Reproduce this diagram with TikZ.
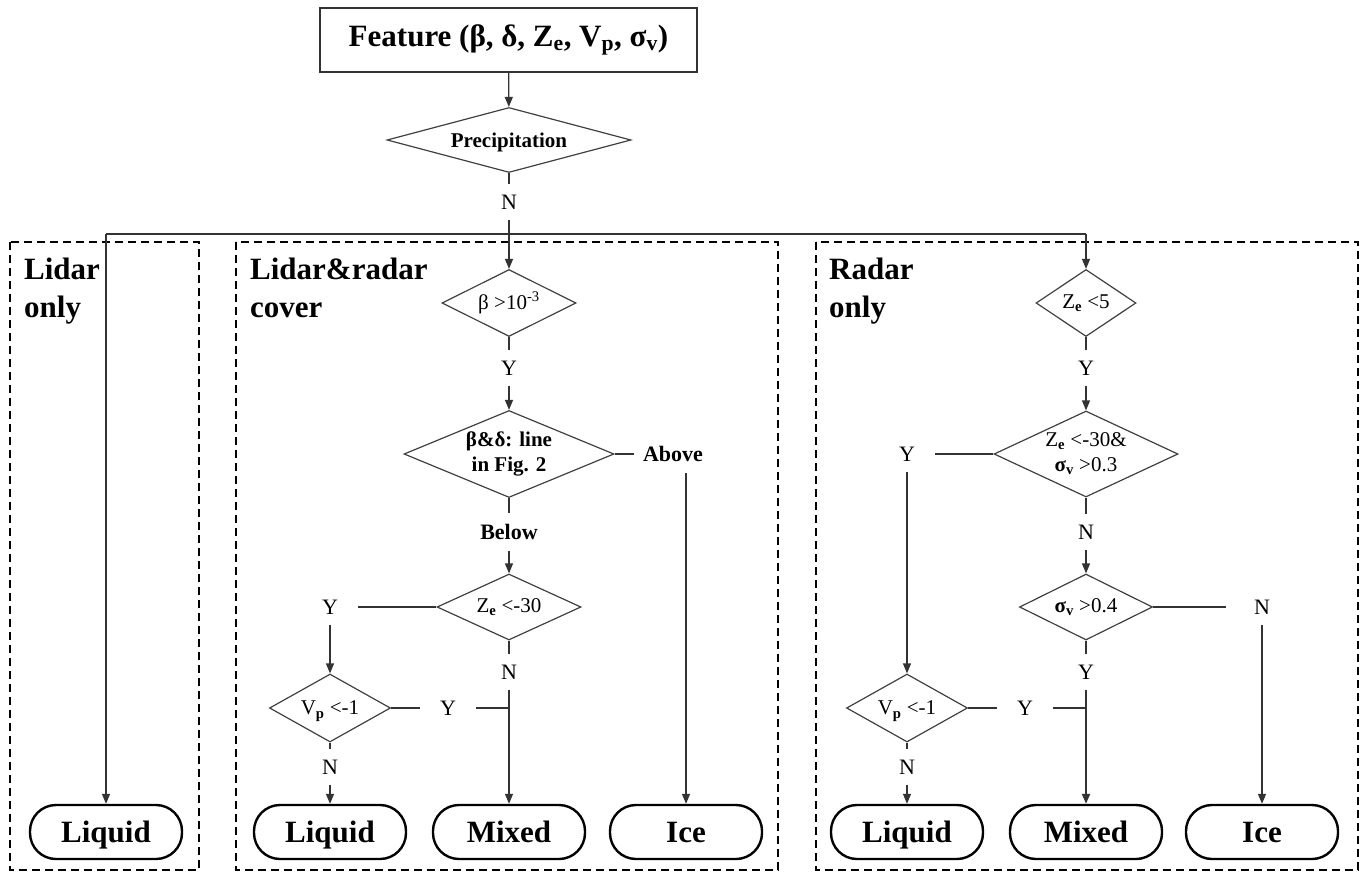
\documentclass[tikz,border=0pt]{standalone}
\usepackage{fontspec}
\setmainfont{Liberation Serif}
\usetikzlibrary{shapes.geometric,arrows.meta}
\newcommand{\bigtxt}{\fontsize{31}{38}\selectfont\bfseries}
\newcommand{\midtxt}{\fontsize{21}{25}\selectfont}
\newcommand{\lbltxt}{\fontsize{22}{26}\selectfont}
\newcommand{\sub}[1]{\textsubscript{\bfseries #1}}
\tikzset{
    dec/.style n args={3}{diamond, draw=black!75, line width=1.2pt, inner sep=0pt,
        font=\midtxt, align=center, minimum width=#1pt, minimum height=#2pt, aspect=#3},
    term/.style={rectangle, rounded corners=26pt, draw, line width=2.4pt,
        minimum width=152pt, minimum height=54pt, font=\bigtxt,
        text height=21pt, text depth=0pt},
    feat/.style={rectangle, draw=black!80, line width=1.2pt,
        minimum width=377pt, minimum height=64pt, font=\bigtxt},
    lbl/.style={font=\lbltxt, inner xsep=20pt, inner ysep=11pt},
    blbl/.style={lbl, font=\lbltxt\bfseries},
    zone/.style={draw, line width=2pt, dash pattern=on 8pt off 5pt},
    zlbl/.style={anchor=north west, align=left, font=\bigtxt, inner sep=0pt}
}
\tikzset{
    every edge/.append style={line width=1.3pt, draw=black!80},
    >={Triangle[length=10pt,width=8pt]}
}

\begin{document}
\begin{tikzpicture}[x=1pt, y=-1pt]
	\useasboundingbox (0,0) rectangle (1372,874);
	\draw[zone] (10,242) rectangle (199,870);
	\draw[zone] (236,242) rectangle (778,870);
	\draw[zone] (816,242) rectangle (1358,870);
	\node (50) [zlbl] at (24,258) {Lidar\\only};
	\node (51) [zlbl] at (250,258) {Lidar\&radar\\cover};
	\node (52) [zlbl] at (829,258) {Radar\\only};

	\node (1) [feat] at (508.5,40) {Feature (β, δ, Z\sub{e}, V\sub{p},\ σ\sub{v})};
	\node (2) [dec={244}{65}{3.75}, font=\midtxt\bfseries, text depth=0pt] at (509,140) {Precipitation};
	\node (3) [lbl] at (509,202) {N};
	\coordinate (4) at (106,234);
	\coordinate (5) at (509,234);
	\coordinate (6) at (1086,234);

	\node (10) [dec={134}{67}{2}] at (509,303) {β >10\textsuperscript{-3}};
	\node (11) [lbl] at (509,368) {Y};
	\node (12) [dec={210}{87}{2.4}, font=\midtxt\bfseries] at (509,454) {β\&δ: line\\in Fig. 2};
	\node (13) [blbl, inner xsep=9pt] at (673,454) {Above};
	\node (14) [blbl] at (509,532) {Below};
	\node (15) [dec={144}{66}{2.2}] at (509,607) {Z\sub{e} <-30};
	\node (16) [lbl] at (330,607) {Y};
	\node (17) [dec={121}{68}{1.8}, text depth=0pt] at (330,708) {V\sub{p} <-1};
	\node (18) [lbl] at (448,708) {Y};
	\node (19) [lbl] at (509,672) {N};
	\node (20) [lbl] at (330,767) {N};
	\node (21) [term] at (330,832) {Liquid};
	\node (22) [term] at (509,832) {Mixed};
	\node (23) [term] at (686,832) {Ice};
	\node (24) [term] at (106,832) {Liquid};

	\node (30) [dec={100}{67}{1.5}] at (1086,303) {Z\sub{e} <5};
	\node (31) [lbl] at (1086,368) {Y};
	\node (32) [dec={184}{86}{2.14}] at (1086,454) {Z\sub{e} <-30\&\\{\bfseries σ}\sub{v} >0.3};
	\node (33) [lbl] at (907,454) {Y};
	\node (34) [lbl] at (1086,532) {N};
	\node (35) [dec={133}{66}{2}] at (1086,607) {{\bfseries σ}\sub{v} >0.4};
	\node (36) [lbl, inner xsep=28pt] at (1262,607) {N};
	\node (37) [lbl] at (1086,672) {Y};
	\node (38) [dec={121}{68}{1.8}, text depth=0pt] at (907,708) {V\sub{p} <-1};
	\node (39) [lbl] at (1025,708) {Y};
	\node (40) [lbl] at (907,767) {N};
	\node (41) [term] at (907,832) {Liquid};
	\node (42) [term] at (1086,832) {Mixed};
	\node (43) [term] at (1262,832) {Ice};

	\draw (1) edge[->] (2); \draw (2) edge (3); \draw (3) edge (5);
	\draw (4) edge (6);
	\draw (4) edge[->] (24); \draw (5) edge[->] (10); \draw (6) edge[->] (30);

	\draw (10) edge (11); \draw (11) edge[->] (12);
	\draw (12) edge (13); \draw (13.south -| 23) edge[->] (23);
	\draw (12) edge (14); \draw (14) edge[->] (15);
	\draw (15) edge (16); \draw (16) edge[->] (17);
	\draw (15) edge (19); \draw (19) edge[->] (22);
	\draw (17) edge (18); \draw (18.east) edge (18.east -| 22);
	\draw (17) edge (20); \draw (20) edge[->] (21);

	\draw (30) edge (31); \draw (31) edge[->] (32);
	\draw (32) edge (33); \draw (33) edge[->] (38);
	\draw (32) edge (34); \draw (34) edge[->] (35);
	\draw (35) edge (36); \draw (36) edge[->] (43);
	\draw (35) edge (37); \draw (37) edge[->, line width=2pt] (42);
	\draw (38) edge (39); \draw (39.east) edge (39.east -| 42);
	\draw (38) edge (40); \draw (40) edge[->] (41);
\end{tikzpicture}
\end{document}
